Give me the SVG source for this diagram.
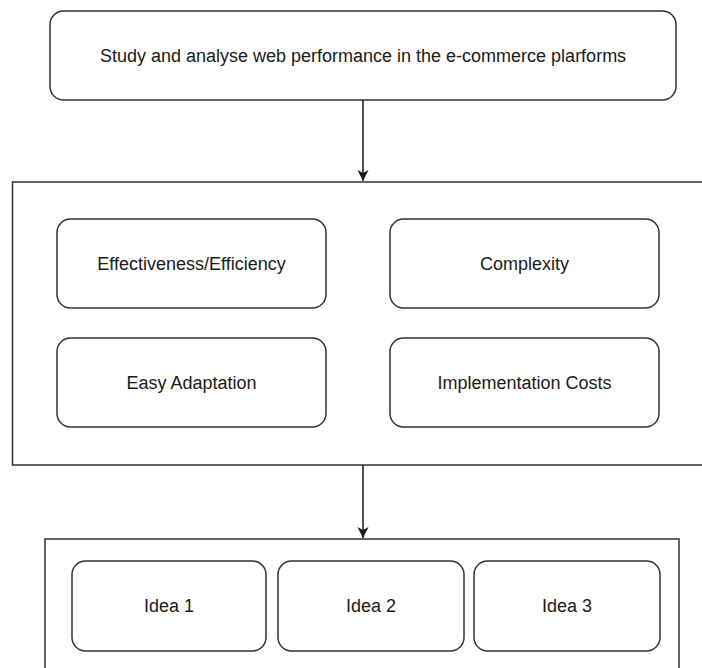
<svg xmlns="http://www.w3.org/2000/svg" width="702" height="668" viewBox="0 0 702 668">
  <defs>
    <style>
      .box { fill: #ffffff; stroke: #333333; stroke-width: 1.5; }
      .frame { fill: #ffffff; stroke: #333333; stroke-width: 1.5; }
      .lbl { font-family: "Liberation Sans", Arial, sans-serif; font-size: 18px; fill: #1a1a1a; text-anchor: middle; dominant-baseline: central; }
      .conn { fill: none; stroke: #1a1a1a; stroke-width: 1.5; }
    </style>
    <marker id="arrow" viewBox="0 0 12 12" refX="11" refY="6" markerWidth="12" markerHeight="12" markerUnits="userSpaceOnUse" orient="auto">
      <path d="M0,0.5 L11,6 L0,11.5 L3,6 Z" fill="#1a1a1a"/>
    </marker>
  </defs>
  <rect width="702" height="668" fill="#ffffff"/>

  <g id="goal">
    <rect class="box" x="50" y="11" width="626" height="89" rx="13.5" ry="13.5"/>
    <text class="lbl" x="363" y="55.5">Study and analyse web performance in the e-commerce plarforms</text>
  </g>

  <g id="criteria">
    <rect class="frame" x="12.5" y="182" width="700" height="283"/>
  </g>

  <g id="effectiveness">
    <rect class="box" x="57" y="219" width="269" height="89" rx="13.5" ry="13.5"/>
    <text class="lbl" x="191.5" y="263.5">Effectiveness/Efficiency</text>
  </g>
  <g id="complexity">
    <rect class="box" x="390" y="219" width="269" height="89" rx="13.5" ry="13.5"/>
    <text class="lbl" x="524.5" y="263.5">Complexity</text>
  </g>
  <g id="adaptation">
    <rect class="box" x="57" y="338" width="269" height="89" rx="13.5" ry="13.5"/>
    <text class="lbl" x="191.5" y="382.5">Easy Adaptation</text>
  </g>
  <g id="costs">
    <rect class="box" x="390" y="338" width="269" height="89" rx="13.5" ry="13.5"/>
    <text class="lbl" x="524.5" y="382.5">Implementation Costs</text>
  </g>

  <g id="ideas">
    <rect class="frame" x="45" y="539" width="634" height="150"/>
  </g>
  <g id="idea1">
    <rect class="box" x="72" y="561" width="194" height="90" rx="13.5" ry="13.5"/>
    <text class="lbl" x="169" y="606">Idea 1</text>
  </g>
  <g id="idea2">
    <rect class="box" x="278" y="561" width="186" height="90" rx="13.5" ry="13.5"/>
    <text class="lbl" x="371" y="606">Idea 2</text>
  </g>
  <g id="idea3">
    <rect class="box" x="474" y="561" width="186" height="90" rx="13.5" ry="13.5"/>
    <text class="lbl" x="567" y="606">Idea 3</text>
  </g>

  <g id="connectors">
    <line class="conn" x1="363" y1="100" x2="363" y2="181" marker-end="url(#arrow)"/>
    <line class="conn" x1="363" y1="465" x2="363" y2="538" marker-end="url(#arrow)"/>
  </g>
</svg>
